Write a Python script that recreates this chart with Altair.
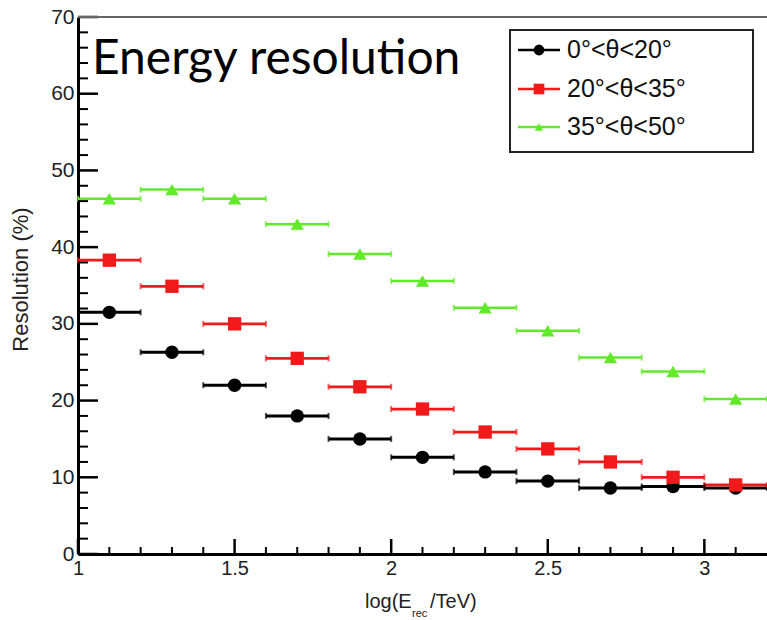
import altair as alt
import pandas as pd

# ---------------- data ----------------
bin_centers = [1.1, 1.3, 1.5, 1.7, 1.9, 2.1, 2.3, 2.5, 2.7, 2.9, 3.1]
bin_half_width = 0.1
res_0_20 = [31.5, 26.3, 22.0, 18.0, 15.0, 12.6, 10.7, 9.5, 8.6, 8.8, 8.6]
res_20_35 = [38.3, 34.9, 30.0, 25.5, 21.8, 18.9, 15.9, 13.7, 12.0, 10.0, 9.0]
res_35_50 = [46.3, 47.5, 46.3, 43.0, 39.1, 35.6, 32.1, 29.1, 25.6, 23.8, 20.2]
series_labels = ["0°<θ<20°", "20°<θ<35°", "35°<θ<50°"]
series_colors = ["#000000", "#f01a1a", "#60ea28"]
series_shapes = ["circle", "square", "triangle-up"]
series_sizes = [180, 175, 110]
series_widths = [3, 2.5, 2.5]

y_major_ticks = [0, 10, 20, 30, 40, 50, 60, 70]
y_minor_ticks = [v for v in range(0, 71, 2) if v % 10 != 0]
x_major_ticks = [1.0, 1.5, 2.0, 2.5, 3.0]
x_minor_ticks = [1.1, 1.2, 1.3, 1.4, 1.6, 1.7, 1.8, 1.9, 2.1, 2.2, 2.3, 2.4,
                 2.6, 2.7, 2.8, 2.9, 3.1]

title_text = "Energy resolution"
y_title = "Resolution (%)"

# ---------------- layout ----------------
W, H = 689, 537
FONT = "Liberation Sans"

rows = []
for lab, vals in zip(series_labels, [res_0_20, res_20_35, res_35_50]):
    for xc, v in zip(bin_centers, vals):
        rows.append({"series": lab, "x": xc, "lo": xc - bin_half_width,
                     "hi": xc + bin_half_width, "res": v})
df = pd.DataFrame(rows)

xscale = alt.Scale(domain=[1, 3.2], nice=False, zero=False)
yscale = alt.Scale(domain=[0, 70], nice=False, zero=False)
cscale = alt.Scale(domain=series_labels, range=series_colors)
sscale = alt.Scale(domain=series_labels, range=series_shapes)
zscale = alt.Scale(domain=series_labels, range=series_sizes)
wscale = alt.Scale(domain=series_labels, range=series_widths)

x_axis = alt.Axis(values=x_major_ticks, format="~g", ticks=False, grid=False,
                  domainColor="#000", domainWidth=3, labelFont=FONT,
                  labelFontSize=20, labelColor="#222", labelPadding=4,
                  labelFlush=False, title=None)
y_axis = alt.Axis(values=y_major_ticks, ticks=False, grid=False,
                  domainColor="#000", domainWidth=3, labelFont=FONT,
                  labelFontSize=21, labelColor="#222", labelPadding=4,
                  title=y_title, titleFont=FONT, titleFontSize=22,
                  titleFontWeight="normal", titleColor="#222",
                  titleX=-58, titleY=262, titleAlign="center",
                  titleBaseline="middle", titleAngle=270)


def X(field):
    return alt.X(field, scale=xscale, axis=x_axis)


def Y(field):
    return alt.Y(field, scale=yscale, axis=y_axis)


bars = alt.Chart(df).mark_rule().encode(
    x=X("lo:Q"),
    x2="hi:Q",
    y=Y("res:Q"),
    color=alt.Color("series:N", scale=cscale, legend=None),
    strokeWidth=alt.StrokeWidth("series:N", scale=wscale, legend=None),
)
caps_lo = alt.Chart(df).mark_tick(orient="vertical", size=6, thickness=2).encode(
    x=X("lo:Q"), y=Y("res:Q"),
    color=alt.Color("series:N", scale=cscale, legend=None),
)
caps_hi = alt.Chart(df).mark_tick(orient="vertical", size=6, thickness=2).encode(
    x=X("hi:Q"), y=Y("res:Q"),
    color=alt.Color("series:N", scale=cscale, legend=None),
)
points = alt.Chart(df).mark_point(filled=True, opacity=1).encode(
    x=X("x:Q"), y=Y("res:Q"),
    color=alt.Color("series:N", scale=cscale, legend=None),
    shape=alt.Shape("series:N", scale=sscale, legend=None),
    size=alt.Size("series:N", scale=zscale, legend=None),
)

# inward ROOT-style ticks
ymaj = alt.Chart(pd.DataFrame({"v": y_major_ticks})).mark_rule(
    color="#000", strokeWidth=2.5).encode(
    y=Y("v:Q"), x=alt.value(0), x2=alt.value(20))
ymin = alt.Chart(pd.DataFrame({"v": y_minor_ticks})).mark_rule(
    color="#000", strokeWidth=2).encode(
    y=Y("v:Q"), x=alt.value(0), x2=alt.value(10))
xmaj = alt.Chart(pd.DataFrame({"v": x_major_ticks})).mark_rule(
    color="#000", strokeWidth=2.5).encode(
    x=X("v:Q"), y=alt.value(H), y2=alt.value(H - 15))
xmin = alt.Chart(pd.DataFrame({"v": x_minor_ticks})).mark_rule(
    color="#000", strokeWidth=2).encode(
    x=X("v:Q"), y=alt.value(H), y2=alt.value(H - 7))

one = pd.DataFrame({"a": [0]})
top_border = alt.Chart(one).mark_rule(color="#666", strokeWidth=2).encode(
    x=alt.value(0), x2=alt.value(W), y=alt.value(0))

title = alt.Chart(one).mark_text(font="Lato", fontSize=48, align="left",
                                 baseline="alphabetic", color="#000").encode(
    x=alt.value(14), y=alt.value(57), text=alt.value(title_text))

# x-axis title with subscript
xt1 = alt.Chart(one).mark_text(font=FONT, fontSize=20, align="left",
                               baseline="alphabetic", color="#222").encode(
    x=alt.value(287), y=alt.value(591), text=alt.value("log(E"))
xt2 = alt.Chart(one).mark_text(font=FONT, fontSize=11, align="left",
                               baseline="alphabetic", color="#222").encode(
    x=alt.value(334), y=alt.value(600), text=alt.value("rec"))
xt3 = alt.Chart(one).mark_text(font=FONT, fontSize=20, align="left",
                               baseline="alphabetic", color="#222").encode(
    x=alt.value(352), y=alt.value(591), text=alt.value("/TeV)"))

# legend
legend_box = alt.Chart(one).mark_rect(fill="#fff", stroke="#222",
                                      strokeWidth=2).encode(
    x=alt.value(432), x2=alt.value(675), y=alt.value(13), y2=alt.value(135))
legend_layers = [legend_box]
legend_rows = [33, 72, 110]
for lab, col, shp, sz, ry in zip(series_labels, series_colors, series_shapes,
                                 series_sizes, legend_rows):
    legend_layers.append(alt.Chart(one).mark_rule(color=col, strokeWidth=2.5).encode(
        x=alt.value(440), x2=alt.value(482), y=alt.value(ry)))
    legend_layers.append(alt.Chart(one).mark_point(
        filled=True, opacity=1, color=col, shape=shp, size=sz * 0.65).encode(
        x=alt.value(461), y=alt.value(ry)))
    legend_layers.append(alt.Chart(one).mark_text(
        font=FONT, fontSize=25, align="left", baseline="middle",
        color="#111").encode(
        x=alt.value(489), y=alt.value(ry), text=alt.value(lab)))

chart = alt.layer(
    bars, caps_lo, caps_hi, points, ymaj, ymin, xmaj, xmin, top_border,
    title, xt1, xt2, xt3, *legend_layers
).properties(
    width=W, height=H, autosize="none",
    padding={"left": 78, "top": 17, "right": 0, "bottom": 66},
    background="white",
).configure_view(stroke=None)

chart.save("out.html", embed_options={"renderer": "svg", "actions": False})
